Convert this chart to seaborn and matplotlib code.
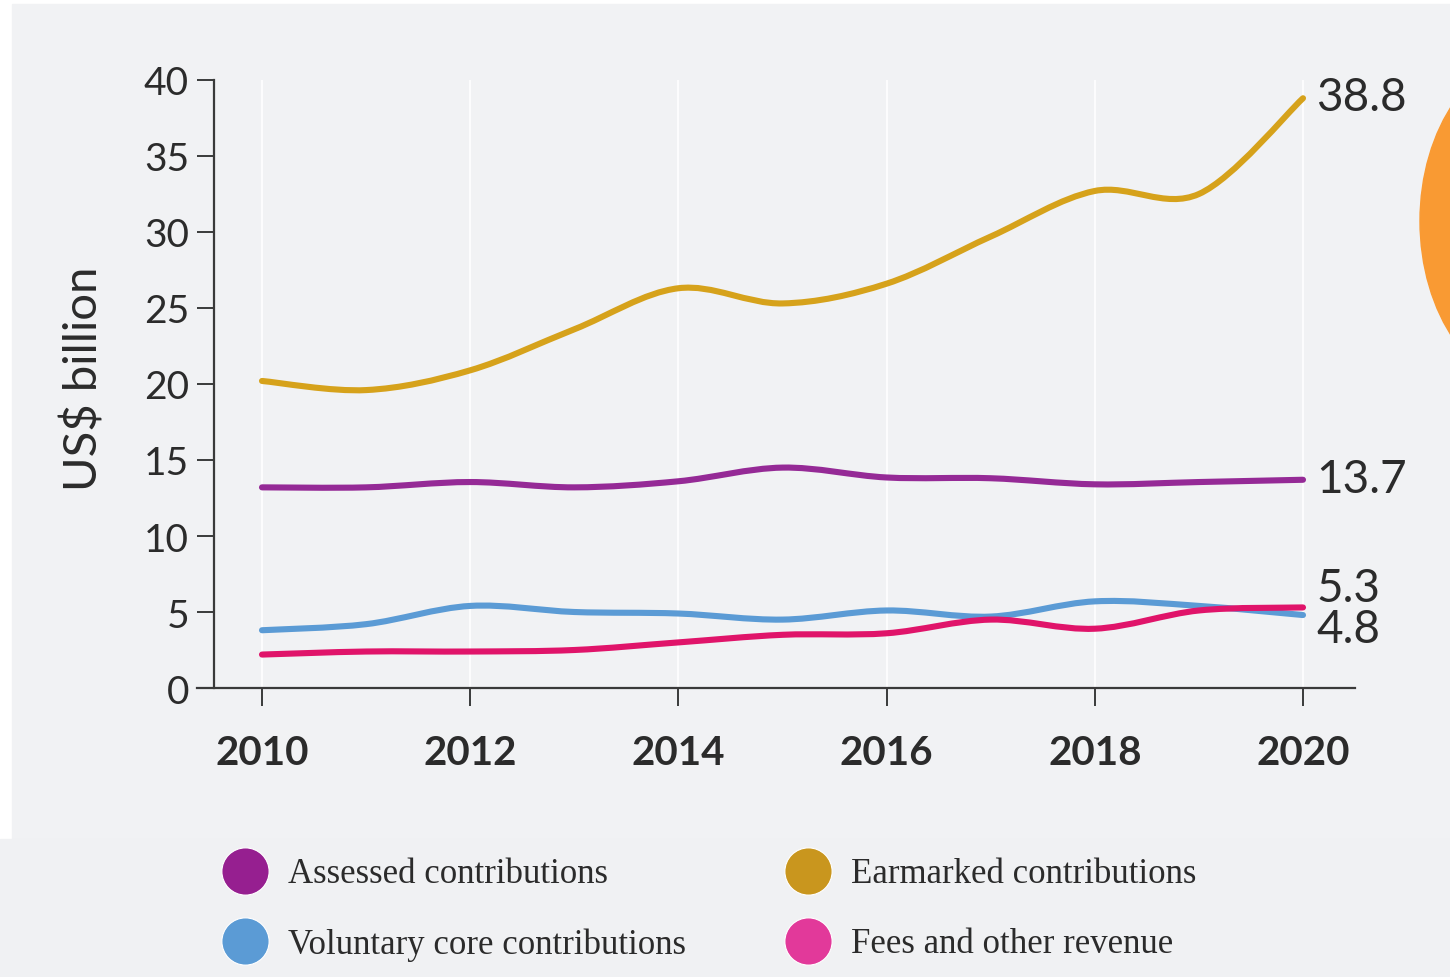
import numpy as np
import pandas as pd
import seaborn as sns
import matplotlib.pyplot as plt
from matplotlib.path import Path
from matplotlib.patches import PathPatch, Ellipse, Rectangle
from matplotlib.lines import Line2D

# data (US$ billion)
years = [2010, 2011, 2012, 2013, 2014, 2015, 2016, 2017, 2018, 2019, 2020]
earmarked = [20.2, 19.6, 20.9, 23.6, 26.3, 25.3, 26.6, 29.7, 32.7, 32.5, 38.8]
assessed = [13.2, 13.2, 13.55, 13.2, 13.6, 14.5, 13.85, 13.8, 13.4, 13.55, 13.7]
voluntary = [3.8, 4.2, 5.4, 5.0, 4.9, 4.5, 5.1, 4.7, 5.7, 5.4, 4.8]
fees = [2.2, 2.4, 2.4, 2.5, 3.0, 3.5, 3.6, 4.5, 3.9, 5.1, 5.3]

series_names = ['Assessed contributions', 'Earmarked contributions',
                'Voluntary core contributions', 'Fees and other revenue']
line_colors = ['#952a96', '#d6a21b', '#5b9bd5', '#e0146a']
dot_colors = ['#961f90', '#c9961e', '#5b9bd5', '#e2399a']
end_labels = ['13.7', '38.8', '4.8', '5.3']
label_shift = [0.05, 0.1, -0.9, 1.3]

df = pd.DataFrame({'year': years, series_names[0]: assessed, series_names[1]: earmarked,
                   series_names[2]: voluntary, series_names[3]: fees})

sns.set_theme(style='white')
plt.rcParams['font.family'] = ['Lato', 'DejaVu Sans']

bg = '#f1f2f4'
txt = '#2b2b2b'
fig = plt.figure(figsize=(14.5, 9.78), dpi=100, facecolor='white')
# background panels
fig.patches.append(Rectangle((12 / 1450, 1 - 840 / 978), 1, 835 / 978, transform=fig.transFigure,
                             color=bg, zorder=-10))
fig.patches.append(Rectangle((0, 0), 1, 1 - 840 / 978, transform=fig.transFigure,
                             color='#f0f1f3', zorder=-10))

ax = fig.add_axes([214 / 1450, 1 - 689 / 978, 1141 / 1450, 608 / 978])
ax.set_facecolor(bg)
ax.set_xlim(2010 - 48 / 104.1, 2020 + 52 / 104.1)
ax.set_ylim(0, 40)


def smooth_path(xs, ys):
    # catmull-rom turned into cubic bezier segments
    pts = np.column_stack([xs, ys]).astype(float)
    ext = np.vstack([pts[0], pts, pts[-1]])
    verts = [pts[0]]
    codes = [Path.MOVETO]
    for i in range(1, len(ext) - 2):
        p0, p1, p2, p3 = ext[i - 1], ext[i], ext[i + 1], ext[i + 2]
        verts += [p1 + (p2 - p0) / 6, p2 - (p3 - p1) / 6, p2]
        codes += [Path.CURVE4] * 3
    return Path(verts, codes)


for name, col in zip(series_names, line_colors):
    patch = PathPatch(smooth_path(df['year'], df[name]), fill=False, edgecolor=col,
                      linewidth=4.4, capstyle='round', joinstyle='round', zorder=3)
    ax.add_patch(patch)

# value labels at the right end
for name, lab, shift in zip(series_names, end_labels, label_shift):
    ax.text(2020.13, df[name].iloc[-1] + shift, lab, fontsize=33, color=txt,
            va='center', ha='left', clip_on=False)

# grid + spines
ax.set_xticks(years[::2])
ax.set_yticks(range(0, 41, 5))
for x in years[::2]:
    ax.axvline(x, color='white', linewidth=1.2, zorder=0)
for s in ['top', 'right']:
    ax.spines[s].set_visible(False)
for s in ['left', 'bottom']:
    ax.spines[s].set_color('#3a3a3a')
    ax.spines[s].set_linewidth(1.6)
ax.spines['bottom'].set_bounds(2010 - 65 / 104.1, 2020 + 52 / 104.1)
ax.tick_params(axis='y', direction='out', length=12, width=1.4, color='#3a3a3a',
               labelsize=28, labelcolor=txt, pad=6, left=True)
ax.tick_params(axis='x', direction='out', length=13, width=1.4, color='#3a3a3a',
               labelsize=29, labelcolor=txt, pad=20, bottom=True)
for t in ax.get_xticklabels():
    t.set_fontweight('bold')
ax.set_ylabel('US$ billion', fontsize=34, color=txt)
ax.yaxis.set_label_coords(-0.095, 0.51)

# orange blob cut by the right edge
fig.patches.append(Ellipse((1540 / 1450, 1 - 222 / 978), 240 / 1450, 340 / 978,
                           transform=fig.transFigure, color='#f99a33', zorder=5))

# legend, two rows of two, placed by hand
leg_x = [245, 808, 245, 808]
leg_y = [872, 872, 942, 942]
for name, col, lx, ly in zip(series_names, dot_colors, leg_x, leg_y):
    fig.add_artist(Line2D([lx / 1450], [1 - ly / 978], marker='o', markersize=34,
                          markerfacecolor=col, markeredgecolor='white', markeredgewidth=0.8,
                          linestyle='none', transform=fig.transFigure))
    fig.text((lx + 43) / 1450, 1 - (ly + 3) / 978, name, fontsize=25, color=txt,
             family='Liberation Serif', va='center', ha='left')

fig.savefig('out.png', dpi=100, facecolor=fig.get_facecolor())
